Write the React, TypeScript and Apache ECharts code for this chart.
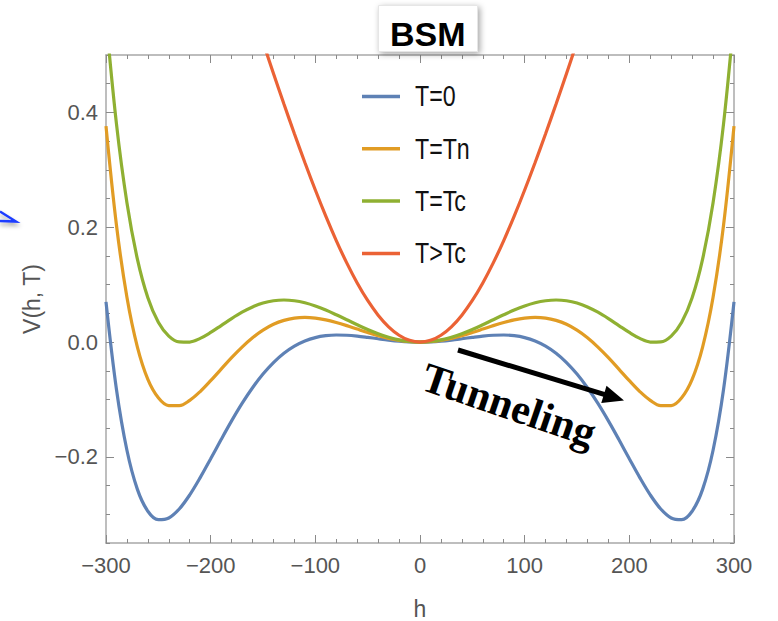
import React, { useEffect, useRef } from 'react';
import * as echarts from 'echarts';

// h values (x axis), every 10 from -300 to 300
const H: number[] = [
  -300, -290, -280, -270, -260, -250, -240, -230, -220, -210,
  -200, -190, -180, -170, -160, -150, -140, -130, -120, -110,
  -100, -90, -80, -70, -60, -50, -40, -30, -20, -10,
  0, 10, 20, 30, 40, 50, 60, 70, 80, 90,
  100, 110, 120, 130, 140, 150, 160, 170, 180, 190,
  200, 210, 220, 230, 240, 250, 260, 270, 280, 290, 300,
];

// T = 0
const V_T0: number[] = [
  0.0700, -0.0826, -0.1885, -0.2566, -0.2947, -0.3094, -0.3064, -0.2907, -0.2662, -0.2361,
  -0.2033, -0.1698, -0.1373, -0.1069, -0.0796, -0.0558, -0.0358, -0.0196, -0.0072, 0.0018,
  0.0078, 0.0111, 0.0123, 0.0119, 0.0104, 0.0082, 0.0058, 0.0035, 0.0016, 0.0004,
  0,
  0.0004, 0.0016, 0.0035, 0.0058, 0.0082, 0.0104, 0.0119, 0.0123, 0.0111, 0.0078,
  0.0018, -0.0072, -0.0196, -0.0358, -0.0558, -0.0796, -0.1069, -0.1373, -0.1698, -0.2033,
  -0.2361, -0.2662, -0.2907, -0.3064, -0.3094, -0.2947, -0.2566, -0.1885, -0.0826, 0.0700,
];

// T = Tn
const V_TN: number[] = [
  0.3760, 0.2034, 0.0780, -0.0087, -0.0649, -0.0969, -0.1106, -0.1108, -0.1016, -0.0862,
  -0.0673, -0.0471, -0.0271, -0.0087, 0.0075, 0.0207, 0.0309, 0.0378, 0.0418, 0.0430,
  0.0418, 0.0387, 0.0341, 0.0286, 0.0226, 0.0167, 0.0112, 0.0065, 0.0030, 0.0008,
  0,
  0.0008, 0.0030, 0.0065, 0.0112, 0.0167, 0.0226, 0.0286, 0.0341, 0.0387, 0.0418,
  0.0430, 0.0418, 0.0378, 0.0309, 0.0207, 0.0075, -0.0087, -0.0271, -0.0471, -0.0673,
  -0.0862, -0.1016, -0.1108, -0.1106, -0.0969, -0.0649, -0.0087, 0.0780, 0.2034, 0.3760,
];

// T = Tc
const V_TC: number[] = [
  0.5650, 0.3800, 0.2427, 0.1444, 0.0771, 0.0344, 0.0104, 0.0003, 0.0000, 0.0064,
  0.0167, 0.0287, 0.0409, 0.0520, 0.0612, 0.0680, 0.0720, 0.0733, 0.0720, 0.0684,
  0.0628, 0.0557, 0.0475, 0.0389, 0.0302, 0.0219, 0.0146, 0.0084, 0.0038, 0.0010,
  0,
  0.0010, 0.0038, 0.0084, 0.0146, 0.0219, 0.0302, 0.0389, 0.0475, 0.0557, 0.0628,
  0.0684, 0.0720, 0.0733, 0.0720, 0.0680, 0.0612, 0.0520, 0.0409, 0.0287, 0.0167,
  0.0064, 0.0000, 0.0003, 0.0104, 0.0344, 0.0771, 0.1444, 0.2427, 0.3800, 0.5650,
];

// T > Tc (only the part that reaches inside the frame)
const H_HOT: number[] = [
  -150, -140, -130, -120, -110, -100, -90, -80, -70, -60, -50, -40, -30, -20, -10,
  0, 10, 20, 30, 40, 50, 60, 70, 80, 90, 100, 110, 120, 130, 140, 150,
];
const V_HOT: number[] = [
  0.5225, 0.4679, 0.4147, 0.3629, 0.3128, 0.2648, 0.2193, 0.1768, 0.1379, 0.1029,
  0.0724, 0.0469, 0.0266, 0.0119, 0.0030,
  0,
  0.0030, 0.0119, 0.0266, 0.0469, 0.0724, 0.1029, 0.1379, 0.1768, 0.2193, 0.2648,
  0.3128, 0.3629, 0.4147, 0.4679, 0.5225,
];

const SERIES_NAMES = ['T=0', 'T=Tn', 'T=Tc', 'T>Tc'];
const COLORS = ['#5E81B5', '#E19C24', '#8FB032', '#EB6235'];
const X_MIN = -300;
const X_MAX = 300;
const Y_MIN = -0.35;
const Y_MAX = 0.5;
const Y_MAJOR = [-0.2, 0, 0.2, 0.4];

const SANS = "'Liberation Sans', Arial, sans-serif";
const FRAME = '#a8a8a8';
const TICK = '#8a8a8a';

function fmtX(v: number): string {
  return v < 0 ? '\u2212' + String(-v) : String(v);
}
function fmtY(v: number): string {
  if (Math.abs(v * 5 - Math.round(v * 5)) > 1e-6) return '';
  const s = Math.abs(v).toFixed(1);
  return v < -1e-9 ? '\u2212' + s : s;
}

function xAxisDef(pos: 'top' | 'bottom') {
  const bottom = pos === 'bottom';
  return {
    type: 'value',
    position: pos,
    min: X_MIN,
    max: X_MAX,
    interval: 100,
    axisLine: { show: true, onZero: false, lineStyle: { color: FRAME, width: 1.5 } },
    axisTick: { show: true, inside: true, length: 8, lineStyle: { color: TICK, width: 1 } },
    minorTick: { show: true, splitNumber: 5, length: 4, lineStyle: { color: TICK, width: 1 } },
    splitLine: { show: false },
    minorSplitLine: { show: false },
    axisLabel: {
      show: bottom,
      margin: 11,
      color: '#555',
      fontSize: 22,
      fontFamily: SANS,
      formatter: fmtX,
    },
    name: bottom ? 'h' : '',
    nameLocation: 'middle',
    nameGap: 54,
    nameTextStyle: { color: '#555', fontSize: 23, fontFamily: SANS },
  };
}

function yAxisMinor(pos: 'left' | 'right') {
  const left = pos === 'left';
  return {
    type: 'value',
    position: pos,
    min: Y_MIN,
    max: Y_MAX,
    interval: 0.05,
    axisLine: { show: true, onZero: false, lineStyle: { color: FRAME, width: 1.5 } },
    axisTick: { show: true, inside: true, length: 4, lineStyle: { color: TICK, width: 1 } },
    splitLine: { show: false },
    axisLabel: {
      show: left,
      margin: 8,
      color: '#555',
      fontSize: 22,
      fontFamily: SANS,
      formatter: fmtY,
    },
    name: left ? 'V(h, T)' : '',
    nameLocation: 'middle',
    nameGap: 56,
    nameTextStyle: { color: '#555', fontSize: 23, fontFamily: SANS },
  };
}

function yAxisMajor(pos: 'left' | 'right') {
  return {
    type: 'value',
    position: pos,
    min: Y_MIN,
    max: Y_MAX,
    axisLine: { show: false, onZero: false },
    axisTick: { show: true, inside: true, length: 8, customValues: Y_MAJOR, lineStyle: { color: TICK, width: 1 } },
    axisLabel: { show: false },
    splitLine: { show: false },
  };
}

export default function App() {
  const ref = useRef<HTMLDivElement>(null);

  useEffect(() => {
    if (!ref.current) return;
    const chart = echarts.init(ref.current, null, { renderer: 'svg' });

    const curves = [V_T0, V_TN, V_TC];
    const series: any[] = curves.map((vals, k) => ({
      type: 'line',
      name: SERIES_NAMES[k],
      data: H.map((h, i) => [h, vals[i]]),
      symbol: 'none',
      showSymbol: false,
      smooth: 0.35,
      clip: true,
      lineStyle: { width: 3.2, color: COLORS[k] },
      itemStyle: { color: COLORS[k] },
    }));
    series.push({
      type: 'line',
      name: SERIES_NAMES[3],
      data: H_HOT.map((h, i) => [h, V_HOT[i]]),
      symbol: 'none',
      showSymbol: false,
      smooth: 0.35,
      clip: true,
      lineStyle: { width: 3.2, color: COLORS[3] },
      itemStyle: { color: COLORS[3] },
    });

    // legend drawn as graphic so its text can be narrowed like the original
    const legendItems: any[] = [];
    SERIES_NAMES.forEach((name, i) => {
      const yc = 96.5 + i * 52.3;
      legendItems.push({
        type: 'line',
        shape: { x1: 362, y1: yc, x2: 400, y2: yc },
        style: { stroke: COLORS[i], lineWidth: 3.5 },
        z: 50,
      });
      legendItems.push({
        type: 'text',
        x: 415,
        y: yc,
        scaleX: 0.8,
        style: {
          text: name,
          font: `29px ${SANS}`,
          fill: '#111',
          align: 'left',
          verticalAlign: 'middle',
          textAlign: 'left',
          textVerticalAlign: 'middle',
        },
        z: 50,
      });
    });

    const ang = Math.atan2(50.5, 166);
    const tip = [624, 400.5];
    const dx = Math.cos(ang), dy = Math.sin(ang);
    const base = [tip[0] - 21 * dx, tip[1] - 21 * dy];
    const nx = -dy, ny = dx;

    const option: any = {
      animation: false,
      backgroundColor: '#ffffff',
      title: {
        text: 'BSM',
        left: 378,
        top: 5,
        padding: [12, 12, 1, 12],
        backgroundColor: '#ffffff',
        borderColor: '#e6e6e6',
        borderWidth: 1,
        shadowBlur: 6,
        shadowColor: 'rgba(0,0,0,0.35)',
        shadowOffsetX: 2,
        shadowOffsetY: 2,
        textStyle: {
          fontSize: 34,
          fontWeight: 'bold',
          color: '#000',
          fontFamily: SANS,
          lineHeight: 34,
        },
      },
      grid: { left: 106, top: 55, right: 44, bottom: 78, containLabel: false, outerBoundsMode: 'none' },
      xAxis: [xAxisDef('bottom'), xAxisDef('top')],
      yAxis: [yAxisMinor('left'), yAxisMajor('left'), yAxisMinor('right'), yAxisMajor('right')],
      series,
      graphic: [
        ...legendItems,
        {
          type: 'polyline',
          shape: { points: [[0, 211.5], [16, 221.5], [0, 221]] },
          style: { stroke: '#1f3cff', lineWidth: 2.5, fill: null, shadowBlur: 4, shadowColor: 'rgba(0,0,0,0.35)', shadowOffsetY: 3 },
          z: 100,
        },
        {
          type: 'line',
          shape: { x1: 458, y1: 350, x2: base[0] + 1, y2: base[1] + 0.3 },
          style: { stroke: '#000', lineWidth: 5 },
          z: 100,
        },
        {
          type: 'polygon',
          shape: {
            points: [
              [tip[0], tip[1]],
              [base[0] + 9 * nx, base[1] + 9 * ny],
              [base[0] - 9 * nx, base[1] - 9 * ny],
            ],
          },
          style: { fill: '#000' },
          z: 100,
        },
        {
          type: 'text',
          x: 509,
          y: 405,
          rotation: -0.33,
          style: {
            text: 'Tunneling',
            font: "bold 42px 'Liberation Serif', 'Times New Roman', serif",
            fill: '#000',
            align: 'center',
            verticalAlign: 'middle',
            textAlign: 'center',
            textVerticalAlign: 'middle',
          },
          z: 100,
        },
      ],
    };

    chart.setOption(option);
    return () => chart.dispose();
  }, []);

  return (
    <div
      ref={ref}
      style={{ position: 'fixed', left: 0, top: 0, width: 778, height: 621, background: '#fff' }}
    />
  );
}
